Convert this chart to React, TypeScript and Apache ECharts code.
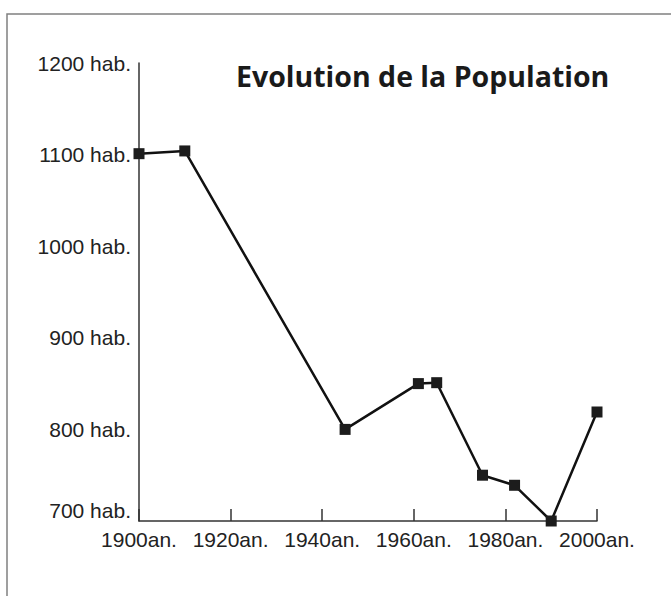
import React, { useEffect, useRef } from "react";
import * as echarts from "echarts";

const years = [1900, 1910, 1945, 1961, 1965, 1975, 1982, 1990, 2000];
const population = [1101, 1104, 800, 850, 851, 750, 739, 700, 819];
const xTicks = [1900, 1920, 1940, 1960, 1980, 2000];
const yTicks = [700, 800, 900, 1000, 1100, 1200];
const titleText = "Evolution de la Population";

export default function App() {
  const ref = useRef<HTMLDivElement>(null);
  useEffect(() => {
    if (!ref.current) return;
    const chart = echarts.init(ref.current, null, { renderer: "svg" });
    chart.setOption({
      animation: false,
      backgroundColor: "#ffffff",
      title: {
        text: titleText,
        left: 236,
        top: 61,
        padding: 0,
        textStyle: {
          fontFamily: "Open Sans",
          fontWeight: "bold",
          fontSize: 28.5,
          color: "#1a1a1a",
        },
      },
      graphic: [
        {
          type: "rect",
          shape: { x: 7, y: 14, width: 720, height: 700 },
          style: { fill: "none", stroke: "#808080", lineWidth: 1.5 },
          silent: true,
        },
      ],
      grid: { left: 139, right: 74, top: 63, bottom: 75 },
      xAxis: {
        type: "value",
        min: xTicks[0],
        max: xTicks[xTicks.length - 1],
        interval: 20,
        splitLine: { show: false },
        axisLine: { show: true, lineStyle: { color: "#333", width: 1.5 } },
        axisTick: { show: true, inside: true, length: 12, lineStyle: { color: "#333", width: 1.5 } },
        axisLabel: {
          formatter: (v: number) => `${v}an.`,
          fontFamily: "Liberation Sans",
          fontSize: 21,
          color: "#222",
          margin: 8,
        },
      },
      yAxis: {
        type: "value",
        min: yTicks[0],
        max: yTicks[yTicks.length - 1],
        interval: 100,
        splitLine: { show: false },
        axisLine: { show: true, lineStyle: { color: "#333", width: 1.5 } },
        axisTick: { show: false },
        axisLabel: {
          formatter: (v: number) => (v === yTicks[0] ? `{low|${v} hab.}` : `${v} hab.`),
          fontFamily: "Liberation Sans",
          fontSize: 21,
          color: "#222",
          margin: 8,
          rich: {
            low: {
              fontFamily: "Liberation Sans",
              fontSize: 21,
              color: "#222",
              padding: [0, 0, 22, 0],
            },
          },
        },
      },
      series: [
        {
          type: "line",
          clip: false,
          data: years.map((y, i) => [y, population[i]]),
          symbol: "rect",
          symbolSize: 11,
          lineStyle: { color: "#111", width: 2.5 },
          itemStyle: { color: "#1c1c1c" },
        },
      ],
    });
    return () => chart.dispose();
  }, []);
  return (
    <div
      ref={ref}
      style={{ position: "fixed", left: 0, top: 0, width: 671, height: 596 }}
    />
  );
}
